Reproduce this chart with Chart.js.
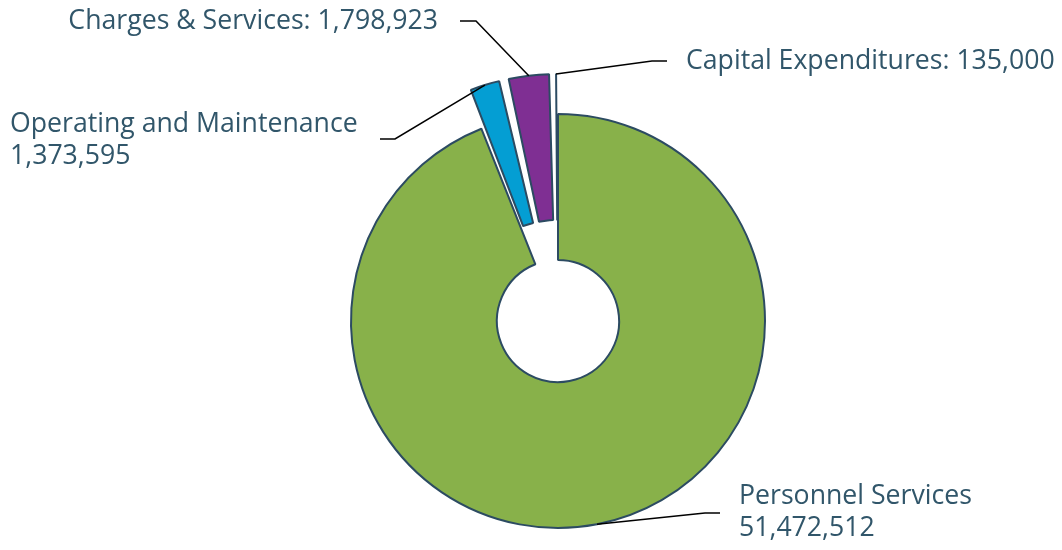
<!DOCTYPE html>
<html lang="en">
<head>
  <meta charset="UTF-8">
  <title>Expenditures by Category</title>
  <script src="https://cdn.jsdelivr.net/npm/chart.js"></script>
  <style>
    body {
      margin: 0;
      padding: 0;
      background: #fff;
    }
    .wrap {
      width: 1062px;
      height: 550px;
      position: relative;
    }
  </style>
</head>
<body>
  <div class="wrap">
    <canvas id="budget-chart"></canvas>
  </div>

  <script>
    // Data
    const categories = ['Personnel Services', 'Operating and Maintenance', 'Charges & Services', 'Capital Expenditures'];
    const amounts = [51472512, 1373595, 1798923, 135000];
    const sliceColors = ['#88b14a', '#049ed3', '#7f2f93', '#e9a21a'];

    // Label placement: text anchor, alignment, and leader elbow
    const labelLayout = [
      { x: 739, y: 496, align: 'left', split: true, elbow: [705, 513], end: [720, 513] },
      { x: 10, y: 124, align: 'left', split: true, elbow: [395, 139], end: [380, 139] },
      { x: 438, y: 21, align: 'right', split: false, elbow: [476, 21], end: [460, 21] },
      { x: 686, y: 61, align: 'left', split: false, elbow: [652, 61], end: [667, 61] }
    ];

    const fmt = n => n.toLocaleString('en-US');

    // Chart.js moves an offset arc by offset/4 and grows its radii by (offset/4)*(1 - sin(angle)),
    // so pick the offset that pushes each small slice out by about 40px
    const explode = 40;
    const offsets = amounts.map((v, i) => {
      if (i === 0) return 0;
      const ang = v / amounts.reduce((a, b) => a + b, 0) * Math.PI * 2;
      return explode / (0.25 * (2 - Math.sin(Math.min(Math.PI, ang))));
    });

    const leaderLabels = {
      id: 'leaderLabels',
      afterDraw(chart) {
        const ctx = chart.ctx;
        const meta = chart.getDatasetMeta(0);
        ctx.save();
        meta.data.forEach((arc, i) => {
          const p = arc.getProps(['x', 'y', 'startAngle', 'endAngle', 'outerRadius']);
          const mid = (p.startAngle + p.endAngle) / 2;
          const push = i === 0 ? 0 : explode;
          const ax = p.x + Math.cos(mid) * (p.outerRadius + push);
          const ay = p.y + Math.sin(mid) * (p.outerRadius + push);
          const lay = labelLayout[i];

          ctx.strokeStyle = '#000';
          ctx.lineWidth = 1.5;
          ctx.beginPath();
          ctx.moveTo(ax, ay);
          ctx.lineTo(lay.elbow[0], lay.elbow[1]);
          ctx.lineTo(lay.end[0], lay.end[1]);
          ctx.stroke();

          ctx.fillStyle = '#31566a';
          ctx.font = '26.67px "Open Sans"';
          ctx.textBaseline = 'middle';
          ctx.textAlign = lay.align;
          if (lay.split) {
            ctx.fillText(categories[i], lay.x, lay.y);
            ctx.fillText(fmt(amounts[i]), lay.x, lay.y + 32);
          } else {
            ctx.fillText(categories[i] + ': ' + fmt(amounts[i]), lay.x, lay.y);
          }
        });
        ctx.restore();
      }
    };

    new Chart(document.getElementById('budget-chart'), {
      type: 'doughnut',
      data: {
        labels: categories,
        datasets: [{
          data: amounts,
          backgroundColor: sliceColors,
          borderColor: '#2c4b62',
          borderWidth: 2,
          offset: offsets
        }]
      },
      options: {
        responsive: true,
        maintainAspectRatio: false,
        animation: false,
        radius: 207,
        cutout: '29.5%',
        layout: { padding: { left: 54, right: 0, top: 92, bottom: 0 } },
        plugins: {
          legend: { display: false },
          tooltip: { enabled: false }
        }
      },
      plugins: [leaderLabels]
    });
  </script>
</body>
</html>
